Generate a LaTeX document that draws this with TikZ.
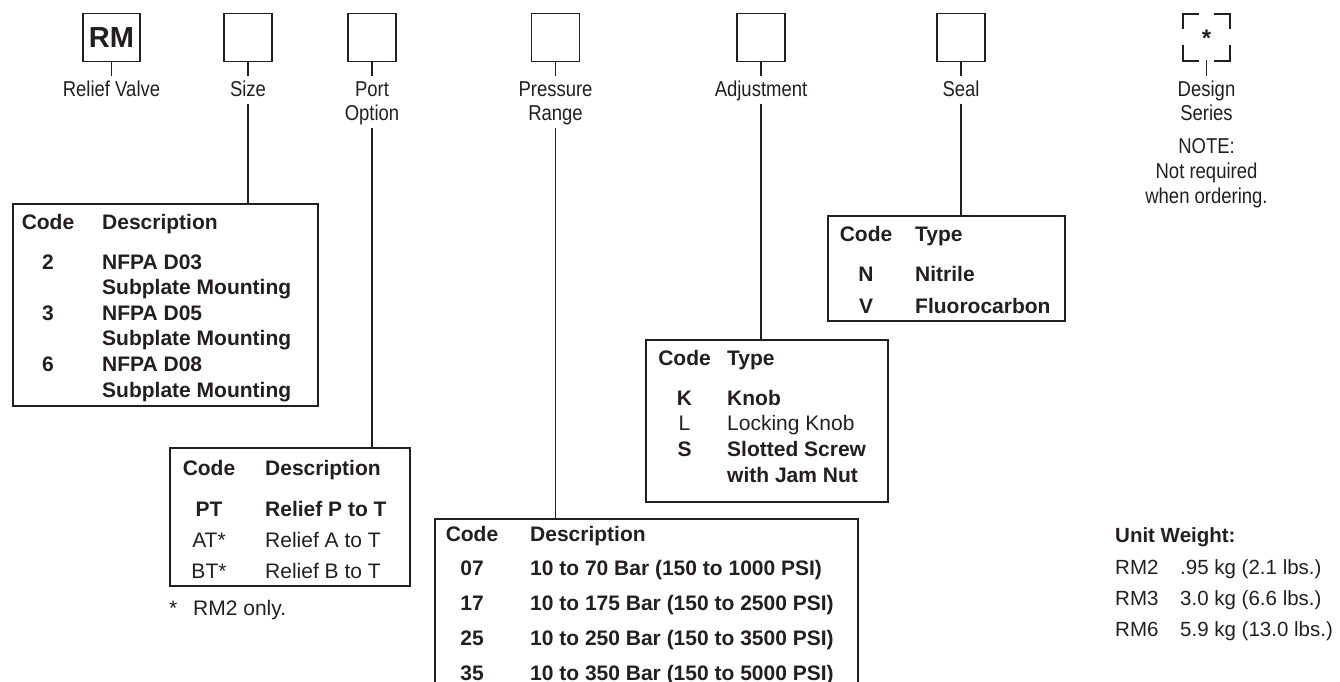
\documentclass[tikz,border=0pt]{standalone}
\usepackage{fontspec}
\setmainfont{Liberation Sans}
\newfontfamily\condf[FakeStretch=0.86]{Liberation Sans}
\definecolor{ink}{HTML}{231F20}
\newcommand\trow[6]{%
  \node[#1, anchor=base] (#2c) at (#3) {#5};
  \node[#1, anchor=base west] (#2d) at (#4) {#6};}
\begin{document}
\begin{tikzpicture}[x=1pt,y=-1pt,
  box/.style={draw=ink, line width=1.6pt, minimum width=48pt, minimum height=48pt, inner sep=0pt},
  tbl/.style={draw=ink, line width=1.5pt, inner sep=0pt, anchor=north west},
  conn/.style={draw=ink, line width=1.5pt},
  lbl/.style={font=\condf\fontsize{21.5}{25}\selectfont, text=ink, inner sep=0pt, anchor=base},
  tb/.style={font=\fontsize{21}{25}\selectfont\bfseries, text=ink, inner sep=0pt},
  tr/.style={font=\fontsize{21}{25}\selectfont, text=ink, inner sep=0pt},
  wb/.style={font=\fontsize{20.5}{25}\selectfont\bfseries, text=ink, inner sep=0pt, anchor=base west},
  wr/.style={font=\fontsize{20.5}{25}\selectfont, text=ink, inner sep=0pt, anchor=base west},
  brk/.style={draw=ink, line width=2.4pt}]
\useasboundingbox (0,0) rectangle (1340,682);

% ---- top code boxes ----
\node[box, minimum width=57pt, font=\fontsize{29}{30}\selectfont\bfseries, text=ink] (brm) at (111.5,37.5) {RM};
\node[box] (bsize) at (248,37.5) {};
\node[box] (bport) at (372,37.5) {};
\node[box] (bpres) at (555.5,37.5) {};
\node[box] (badj) at (761,37.5) {};
\node[box] (bseal) at (961,37.5) {};

% ticks
\foreach \b in {brm,bsize,bport,bpres,badj,bseal}
  \draw[conn] (\b.south) -- ++(0,14);

% labels
\node[lbl] (lrm) at (111.5,97) {Relief Valve};
\node[lbl] (lsize) at (248,97) {Size};
\node[lbl] (lport) at (372,97) {Port};
\node[lbl] (lport2) at (372,121) {Option};
\node[lbl] (lpres) at (555.5,97) {Pressure};
\node[lbl] (lpres2) at (555.5,121) {Range};
\node[lbl] (ladj) at (761,97) {Adjustment};
\node[lbl] (lseal) at (961,97) {Seal};

% design series
\draw[brk] (1183,29) -- (1183,14) -- (1199,14);
\draw[brk] (1214,14) -- (1230,14) -- (1230,29);
\draw[brk] (1183,45) -- (1183,61) -- (1199,61);
\draw[brk] (1214,61) -- (1230,61) -- (1230,45);
\node[font=\fontsize{24}{25}\selectfont\bfseries, text=ink, inner sep=0pt, anchor=base] (star) at (1206.5,47) {*};
\coordinate (dsT) at (1206.5,60);
\draw[conn, line width=1.3pt] (dsT) -- ++(0,16);
\node[lbl] (lds1) at (1206.5,97) {Design};
\node[lbl] (lds2) at (1206.5,121) {Series};
\node[lbl] (lnote1) at (1206.5,153) {NOTE:};
\node[lbl] (lnote2) at (1206.5,178) {Not required};
\node[lbl] (lnote3) at (1206.5,203) {when ordering.};

% ---- tables ----
\node[tbl, minimum width=305pt, minimum height=202pt] (tsize) at (12,203) {};
\node[tbl, minimum width=240pt, minimum height=138pt] (tport) at (169,447) {};
\node[tbl, minimum width=423pt, minimum height=166pt] (tpres) at (434,518) {};
\node[tbl, minimum width=242pt, minimum height=162pt] (tadj) at (645,339) {};
\node[tbl, minimum width=237pt, minimum height=105pt] (tseal) at (827,215) {};

% connectors
\coordinate (csize) at (248,104);
\coordinate (cport) at (372,128);
\coordinate (cpres) at (555.5,128);
\coordinate (cadj) at (761,104);
\coordinate (cseal) at (961,104);
\draw[conn] (csize) -- (csize |- tsize.north);
\draw[conn] (cport) -- (cport |- tport.north);
\draw[conn] (cpres) -- (cpres |- tpres.north);
\draw[conn] (cadj) -- (cadj |- tadj.north);
\draw[conn] (cseal) -- (cseal |- tseal.north);

% size table
\trow{tb}{sh}{48,229}{102,229}{Code}{Description}
\trow{tb}{s1}{48,269}{102,269}{2}{NFPA D03}
\node[tb, anchor=base west] (s1e) at (102,294) {Subplate Mounting};
\trow{tb}{s2}{48,320}{102,320}{3}{NFPA D05}
\node[tb, anchor=base west] (s2e) at (102,345) {Subplate Mounting};
\trow{tb}{s3}{48,371}{102,371}{6}{NFPA D08}
\node[tb, anchor=base west] (s3e) at (102,397) {Subplate Mounting};

% port table
\trow{tb}{ph}{209,475}{265,475}{Code}{Description}
\trow{tb}{p1}{209,516}{265,516}{PT}{Relief P to T}
\trow{tr}{p2}{209,547}{265,547}{AT*}{Relief A to T}
\trow{tr}{p3}{209,578}{265,578}{BT*}{Relief B to T}
\node[tr, anchor=base west] (pfa) at (169,615) {*};
\node[tr, anchor=base west] (pfb) at (193,615) {RM2 only.};

% pressure table
\trow{tb}{rh}{472,541}{530,541}{Code}{Description}
\trow{tb}{r1}{472,575}{530,575}{07}{10 to 70 Bar (150 to 1000 PSI)}
\trow{tb}{r2}{472,610}{530,610}{17}{10 to 175 Bar (150 to 2500 PSI)}
\trow{tb}{r3}{472,645}{530,645}{25}{10 to 250 Bar (150 to 3500 PSI)}
\trow{tb}{r4}{472,680}{530,680}{35}{10 to 350 Bar (150 to 5000 PSI)}

% adjustment table
\trow{tb}{ah}{684.5,365}{727,365}{Code}{Type}
\trow{tb}{a1}{684.5,405}{727,405}{K}{Knob}
\trow{tr}{a2}{684.5,430}{727,430}{L}{Locking Knob}
\trow{tb}{a3}{684.5,456}{727,456}{S}{Slotted Screw}
\node[tb, anchor=base west] (a3e) at (727,482) {with Jam Nut};

% seal table
\trow{tb}{eh}{866,241}{915,241}{Code}{Type}
\trow{tb}{e1}{866,281}{915,281}{N}{Nitrile}
\trow{tb}{e2}{866,313}{915,313}{V}{Fluorocarbon}

% unit weight
\node[wb] (uw) at (1115,542) {Unit Weight:};
\node[wr] (uw1a) at (1115,574) {RM2};
\node[wr] (uw1b) at (1180,574) {.95 kg (2.1 lbs.)};
\node[wr] (uw2a) at (1115,605) {RM3};
\node[wr] (uw2b) at (1180,605) {3.0 kg (6.6 lbs.)};
\node[wr] (uw3a) at (1115,636) {RM6};
\node[wr] (uw3b) at (1180,636) {5.9 kg (13.0 lbs.)};
\end{tikzpicture}
\end{document}
